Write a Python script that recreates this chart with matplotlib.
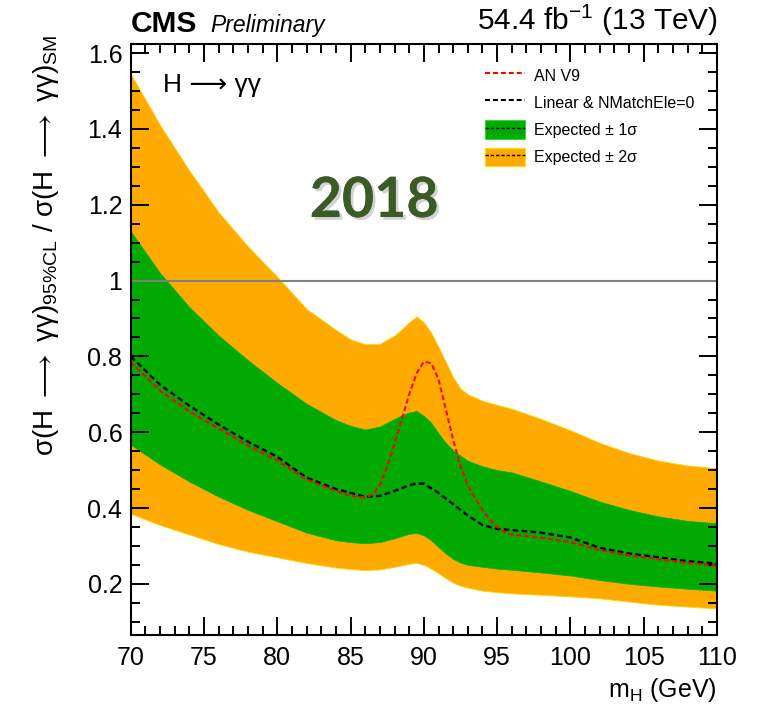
import numpy as np
import matplotlib
matplotlib.use("Agg")
import matplotlib.pyplot as plt
import matplotlib.patheffects as pe
from matplotlib.patches import Patch
from matplotlib.lines import Line2D
from matplotlib.ticker import MultipleLocator, FuncFormatter

plt.rcParams["font.family"] = ["Liberation Sans", "DejaVu Sans"]
plt.rcParams["mathtext.fontset"] = "custom"
plt.rcParams["mathtext.rm"] = "Liberation Sans"
plt.rcParams["mathtext.it"] = "Liberation Sans:italic"
plt.rcParams["mathtext.bf"] = "Liberation Sans:bold"

# expected limit bands vs Higgs mass
m_band = [70, 72, 74, 76, 78, 80, 82, 84, 85, 86, 87, 88, 88.5, 89, 89.5, 90, 90.5,
          91, 91.5, 92, 92.5, 93, 94, 95, 96, 98, 100, 102, 104, 106, 108, 110]
exp_2s_up = [1.545, 1.41, 1.29, 1.18, 1.09, 1.01, 0.925, 0.87, 0.845, 0.832, 0.833,
             0.855, 0.872, 0.89, 0.905, 0.89, 0.862, 0.825, 0.785, 0.745, 0.715,
             0.70, 0.683, 0.672, 0.662, 0.635, 0.605, 0.572, 0.545, 0.525, 0.512,
             0.505]
exp_1s_up = [1.13, 1.02, 0.93, 0.855, 0.79, 0.73, 0.675, 0.632, 0.617, 0.607, 0.615,
             0.635, 0.645, 0.652, 0.656, 0.643, 0.625, 0.597, 0.572, 0.552, 0.538,
             0.525, 0.51, 0.50, 0.494, 0.47, 0.445, 0.417, 0.395, 0.378, 0.366,
             0.36]
exp_1s_dn = [0.567, 0.515, 0.47, 0.43, 0.395, 0.365, 0.335, 0.315, 0.31, 0.307, 0.31,
             0.32, 0.326, 0.332, 0.334, 0.328, 0.315, 0.297, 0.28, 0.266, 0.256,
             0.25, 0.245, 0.24, 0.237, 0.23, 0.222, 0.21, 0.20, 0.193, 0.187, 0.182]
exp_2s_dn = [0.385, 0.355, 0.33, 0.305, 0.285, 0.27, 0.255, 0.243, 0.239, 0.236,
             0.238, 0.245, 0.249, 0.253, 0.255, 0.25, 0.24, 0.228, 0.215, 0.203,
             0.195, 0.19, 0.182, 0.178, 0.175, 0.171, 0.167, 0.162, 0.153, 0.145,
             0.14, 0.135]

# AN V9 expected limit
m_an = [70, 72, 74, 76, 78, 80, 82, 84, 85, 86, 86.5, 87, 87.5, 88, 88.5, 89, 89.5,
        90, 90.5, 91, 91.5, 92, 92.5, 93, 93.5, 94, 94.5, 95, 95.6, 96, 98, 100,
        102, 104, 106, 108, 110]
lim_an = [0.785, 0.71, 0.655, 0.61, 0.565, 0.525, 0.475, 0.445, 0.432, 0.428,
          0.435, 0.46, 0.51, 0.57, 0.635, 0.70, 0.755, 0.786, 0.782, 0.74, 0.66,
          0.58, 0.51, 0.46, 0.425, 0.395, 0.37, 0.35, 0.335, 0.33, 0.322, 0.31,
          0.289, 0.275, 0.265, 0.255, 0.248]

# Linear & NMatchEle=0 expected limit
m_lin = [70, 72, 74, 76, 78, 80, 82, 84, 86, 87, 88, 89, 89.5, 90, 91, 92, 93, 94,
         95, 96, 98, 100, 102, 104, 106, 108, 110]
lim_lin = [0.80, 0.725, 0.67, 0.62, 0.575, 0.535, 0.48, 0.45, 0.43, 0.432, 0.445,
           0.46, 0.465, 0.464, 0.44, 0.41, 0.38, 0.355, 0.345, 0.342, 0.335, 0.322,
           0.295, 0.28, 0.27, 0.26, 0.253]

legend_labels = ["AN V9", "Linear & NMatchEle=0",
                 "Expected ± 1σ", "Expected ± 2σ"]

c_green = "#00aa00"
c_orange = "#ffaa00"
dash = (0, (2.4, 1.4))

fig = plt.figure(figsize=(7.58, 7.08), dpi=100)
ax = fig.add_axes([130.7 / 758, 1 - 635 / 708, (717 - 130.7) / 758, (635 - 44) / 708])

ax.fill_between(m_band, exp_2s_dn, exp_2s_up, facecolor=c_orange,
                edgecolor="#ffd400", lw=0.6)
ax.fill_between(m_band, exp_1s_dn, exp_1s_up, facecolor=c_green,
                edgecolor="#00b400", lw=0.5)
ax.axhline(1.0, color="#808080", lw=1.5)
ax.plot(m_lin, lim_lin, color="black", lw=1.7, ls=dash)
ax.plot(m_an, lim_an, color="red", lw=1.5, ls=dash)

ax.set_xlim(70, 110)
ax.set_ylim(0.065, 1.624)

ax.xaxis.set_major_locator(MultipleLocator(5))
ax.xaxis.set_minor_locator(MultipleLocator(1))
ax.yaxis.set_major_locator(MultipleLocator(0.2))
ax.yaxis.set_minor_locator(MultipleLocator(0.05))
ax.yaxis.set_major_formatter(FuncFormatter(lambda v, p: "%g" % round(v, 2)))
ax.tick_params(which="both", direction="in", top=True, right=True, width=1.4,
               labelsize=18)
ax.tick_params(which="major", length=13)
ax.tick_params(which="minor", length=6.5)
ax.tick_params(axis="x", pad=8)
ax.tick_params(axis="y", pad=6)
for s in ax.spines.values():
    s.set_linewidth(1.5)

fig.text(163 / 758, 1 - 92 / 708, "H ⟶ γγ", fontsize=19,
         va="baseline", ha="left")

fig.text(374 / 758, 1 - 217 / 708, "2018", fontsize=40, fontweight="bold",
         family="Lato", color="#3b5b25", ha="center", va="baseline",
         path_effects=[pe.withSimplePatchShadow(offset=(2, -2), shadow_rgbFace="gray",
                                                alpha=0.35), pe.Normal()])

handles = [
    Line2D([], [], color="red", lw=1.5, ls=dash),
    Line2D([], [], color="black", lw=1.5, ls=dash),
    (Patch(facecolor=c_green, edgecolor="#33dd33", lw=0.8),
     Line2D([], [], color="black", lw=1.0, ls=dash)),
    (Patch(facecolor=c_orange, edgecolor="#ffdd00", lw=0.8),
     Line2D([], [], color="black", lw=1.0, ls=dash)),
]
fig.legend(handles, legend_labels, loc="upper left",
           bbox_to_anchor=(485 / 758, 1 - 66 / 708), frameon=False, fontsize=11.5,
           handlelength=2.5, handleheight=1.4, handletextpad=0.55,
           labelspacing=0.55, borderpad=0, borderaxespad=0)

fig.text(130.7 / 758, 1 - 32 / 708, "CMS", fontsize=21.5, fontweight="bold",
         ha="left", va="baseline")
fig.text(210 / 758, 1 - 32 / 708, "Preliminary", fontsize=16.5, style="italic",
         ha="left", va="baseline")
fig.text(718 / 758, 1 - 30 / 708, "54.4 fb$^{-1}$ (13 TeV)", fontsize=21.5,
         ha="right", va="baseline")
fig.text(717 / 758, 1 - 697 / 708, "m$_{\\mathrm{H}}$ (GeV)", fontsize=18,
         ha="right", va="baseline")
ylab = ("$\\mathrm{σ(H\\ \\longrightarrow\\ γγ)}_{\\mathrm{95\\%CL}}$ / "
        "$\\mathrm{σ(H\\ \\longrightarrow\\ γγ)}_{\\mathrm{SM}}$")
fig.text(46 / 758, 1 - 35 / 708, ylab, fontsize=20, rotation=90,
         ha="center", va="top")

fig.savefig("out.png", dpi=100)
